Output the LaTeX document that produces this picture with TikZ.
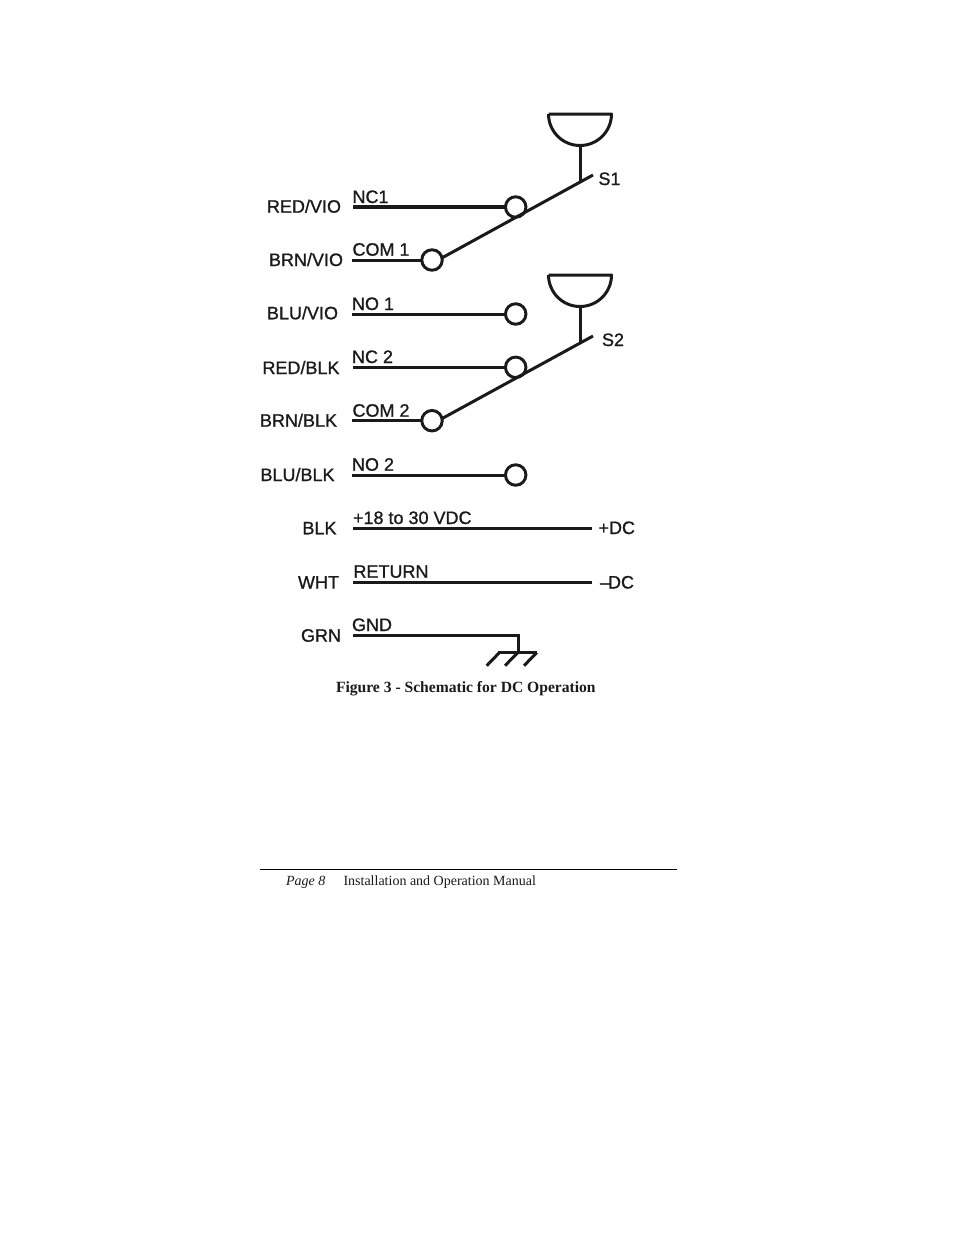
\documentclass[tikz,border=0pt]{standalone}
\usepackage{fontspec}
\setmainfont{Liberation Sans}
\newfontfamily\labface[FakeBold=1]{Liberation Sans}
\newfontfamily\serifface{Liberation Serif}
\definecolor{ink}{HTML}{1A1A1A}
\tikzset{
  every node/.style={inner sep=0pt,outer sep=0pt},
  lab/.style={anchor=base west,text=ink,font=\labface\fontsize{13.5}{16}\selectfont},
  terminal/.style={circle,draw=ink,line width=2.2pt,minimum size=20.5*0.75pt,fill=white},
  wire/.style={draw=ink,line width=2.25pt},
  heavywire/.style={draw=ink,line width=2.9pt},
  capt/.style={anchor=base west,text=ink,font=\serifface\bfseries\fontsize{11.7}{13}\selectfont},
  foot/.style={anchor=base west,text=ink,font=\serifface\fontsize{10.5}{12}\selectfont},
}
\begin{document}
\begin{tikzpicture}[x=0.75pt,y=-0.75pt,line cap=butt]
\useasboundingbox[fill=white] (0,0) rectangle (954,1235);

% free wire ends
\foreach \n/\x/\y in {a1/353/207,a2/352/260,a3/352/314,a4/353/367.3,a5/352/420.7,a6/352/475,
  a7/353/528,b7/592/528,a8/353/582,b8/592/582,a9/353/635.5,b9/518/635.5,g0/518/652.7,
  gl/498/652.7,gr/537/652.7,
  g1a/486.7/665.7,g1b/499.3/652.7,g2a/505/665.7,g2b/517.7/652.7,g3a/524/665.7,g3b/536.7/652.7,
  s1tip/593/175,s1j/580/182.5,s2tip/593/336,s2j/580/343.5,
  c1l/548.5/114,c1r/611.5/114,c1b/580/145.5,c2l/548.5/275,c2r/611.5/275,c2b/580/306.5,
  rl/260/869.5,rr/677/869.5}
  {\coordinate (\n) at (\x,\y);}

% terminals
\node[terminal] (nc1)  at (515.7,207) {};
\node[terminal] (com1) at (432,260) {};
\node[terminal] (no1)  at (515.7,314) {};
\node[terminal] (nc2)  at (515.7,367.3) {};
\node[terminal] (com2) at (432,420.7) {};
\node[terminal] (no2)  at (515.7,475) {};

% wires
\draw[heavywire] (a1) -- (nc1);
\draw[wire] (a2) -- (com1);
\draw[wire] (a3) -- (no1);
\draw[wire] (a4) -- (nc2);
\draw[wire] (a5) -- (com2);
\draw[wire] (a6) -- (no2);
\draw[wire] (a7) -- (b7);
\draw[wire] (a8) -- (b8);
\draw[wire] (a9) -- (b9) -- (g0);
\draw[wire] (gl) -- (gr);
\draw[wire] (g1a) -- (g1b);
\draw[wire] (g2a) -- (g2b);
\draw[wire] (g3a) -- (g3b);

% switch arms
\draw[wire] (com1.12) -- (s1tip);
\draw[wire] (com2.12) -- (s2tip);
\draw[wire] (c1b) -- (s1j);
\draw[wire] (c2b) -- (s2j);

% cups
\draw[wire,line join=round] (c1l) -- (c1r) arc[start angle=0,end angle=180,x radius=31.5,y radius=31.5];
\draw[wire,line join=round] (c2l) -- (c2r) arc[start angle=0,end angle=180,x radius=31.5,y radius=31.5];

% labels
\node[lab] (l1)  at (267,212.7) {RED/VIO};
\node[lab] (l2)  at (269,266) {BRN/VIO};
\node[lab] (l3)  at (267,319.3) {BLU/VIO};
\node[lab] (l4)  at (262.5,374) {RED/BLK};
\node[lab] (l5)  at (260,426.7) {BRN/BLK};
\node[lab] (l6)  at (260.5,481) {BLU/BLK};
\node[lab] (l7)  at (302.5,534.3) {BLK};
\node[lab] (l8)  at (298,588.5) {WHT};
\node[lab] (l9)  at (301,641.7) {GRN};
\node[lab] (t1)  at (352.5,203) {NC1};
\node[lab] (t2)  at (352.5,255.7) {COM 1};
\node[lab] (t3)  at (352,310) {NO 1};
\node[lab] (t4)  at (352,363) {NC 2};
\node[lab] (t5)  at (352.5,416.7) {COM 2};
\node[lab] (t6)  at (352,470.7) {NO 2};
\node[lab] (t7)  at (353,524) {+18 to 30 VDC};
\node[lab] (t8)  at (353.5,577.7) {RETURN};
\node[lab] (t9)  at (352,631) {GND};
\node[lab] (s1)  at (598.5,185) {S1};
\node[lab] (s2)  at (602,346) {S2};
\node[lab] (pdc) at (598.5,534) {+DC};
\node[lab] (mdc) at (600,588.5) {–\kern-1.5pt DC};

% caption and footer
\node[capt] (cap) at (336,692) {Figure 3 - Schematic for DC Operation};
\draw[draw=black,line width=0.75pt] (rl) -- (rr);
\node[foot] (pg) at (286,885) {\itshape Page 8};
\node[foot] (ft) at (343.5,885) {Installation and Operation Manual};
\end{tikzpicture}
\end{document}
